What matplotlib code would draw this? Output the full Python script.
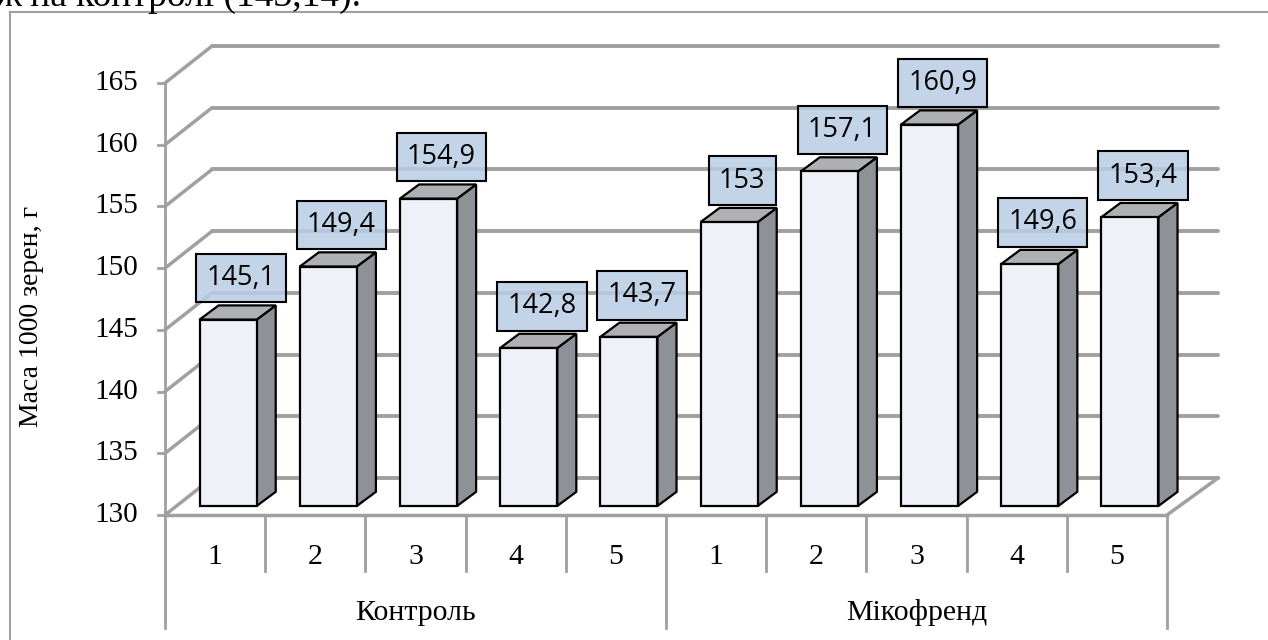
import matplotlib.pyplot as plt
from matplotlib.patches import Polygon
from matplotlib.lines import Line2D

groups = ['Контроль', 'Мікофренд']
variants = ['1', '2', '3', '4', '5']
control = [145.1, 149.4, 154.9, 142.8, 143.7]
mikofrend = [153, 157.1, 160.9, 149.6, 153.4]
yticks = [130, 135, 140, 145, 150, 155, 160, 165]

values = control + mikofrend
n = len(values)
ymin = yticks[0]

# oblique "3d" offsets, in data units
wall_dx, wall_dy = 0.47, 3.0
bar_dx, bar_dy = 0.13, 0.73
depth_dx, depth_dy = 0.19, 1.15
bar_w = 0.57

grid_c = '#a0a0a0'
serif = 'Liberation Serif'

fig = plt.figure(figsize=(12.68, 6.4), dpi=100)
ax = fig.add_axes([0, 0, 1, 1])
ax.set_xlim(-165 / 100.2, (1268 - 165) / 100.2)
ax.set_ylim(ymin - 125 / 12.343, ymin + 515 / 12.343)
ax.axis('off')

# clipped text from the page above the chart
fig.text(-0.004, 1 - 6 / 640, 'ж на контролі (143,14).', family=serif, fontsize=27,
         ha='left', va='baseline')
# chart frame
fig.add_artist(Line2D([10 / 1268, 10 / 1268], [0, 1 - 12 / 640], color=grid_c, lw=1.5))
fig.add_artist(Line2D([10 / 1268, 1], [1 - 12 / 640, 1 - 12 / 640], color=grid_c, lw=1.5))

# walls and grid
for v in yticks:
    ax.plot([0, wall_dx], [v, v + wall_dy], color=grid_c, lw=2.5, solid_capstyle='round')
    ax.plot([wall_dx, n + wall_dx + 0.04], [v + wall_dy, v + wall_dy], color=grid_c, lw=2.8,
            solid_capstyle='round')
    ax.plot([-0.07, 0], [v, v], color=grid_c, lw=2)
    ax.text(-0.27, v, str(v), family=serif, fontsize=21, ha='right', va='center')
ax.plot([0, 0], [ymin, yticks[-1]], color=grid_c, lw=2)
ax.plot([0, n], [ymin, ymin], color=grid_c, lw=2.5)
ax.plot([n, n + wall_dx + 0.04], [ymin, ymin + wall_dy], color=grid_c, lw=2.5)

# category axis
for i in range(n + 1):
    bottom = 120.85 if i % 5 == 0 else 125.5
    ax.plot([i, i], [ymin, bottom], color=grid_c, lw=2)
for i in range(n):
    ax.text(i + 0.5, 126.6, variants[i % 5], family=serif, fontsize=21.5, ha='center', va='center')
for g, name in enumerate(groups):
    ax.text(g * 5 + 2.5, 122.1, name, family=serif, fontsize=21.5, ha='center', va='center')

ax.text(-1.33, 146.1, 'Маса 1000 зерен, г', family=serif, fontsize=20, rotation=90,
        ha='center', va='center')

# bars
for i, v in enumerate(values):
    xl = i + 0.5 + bar_dx - bar_w / 2
    xr = xl + bar_w
    yb = ymin + bar_dy
    yt = v + bar_dy
    front = Polygon([(xl, yb), (xr, yb), (xr, yt), (xl, yt)], closed=True,
                    fc='#eef2f8', ec='black', lw=1.6, zorder=3)
    side = Polygon([(xr, yb), (xr + depth_dx, yb + depth_dy), (xr + depth_dx, yt + depth_dy), (xr, yt)],
                   closed=True, fc='#8e9298', ec='black', lw=1.6, zorder=3)
    top = Polygon([(xl, yt), (xr, yt), (xr + depth_dx, yt + depth_dy), (xl + depth_dx, yt + depth_dy)],
                  closed=True, fc='#aeb0b3', ec='black', lw=1.6, zorder=3)
    for p in (side, top, front):
        ax.add_patch(p)
    lab = f'{v:g}'.replace('.', ',')
    ax.text(i + 0.5 + 0.26, v + 4.1, lab, family='Open Sans', fontsize=19.5, ha='center', va='center',
            zorder=5,
            bbox=dict(boxstyle='square,pad=0.38', fc=(0.725, 0.804, 0.898, 0.85), ec='black', lw=1.5))

fig.savefig('out.png', dpi=100)
